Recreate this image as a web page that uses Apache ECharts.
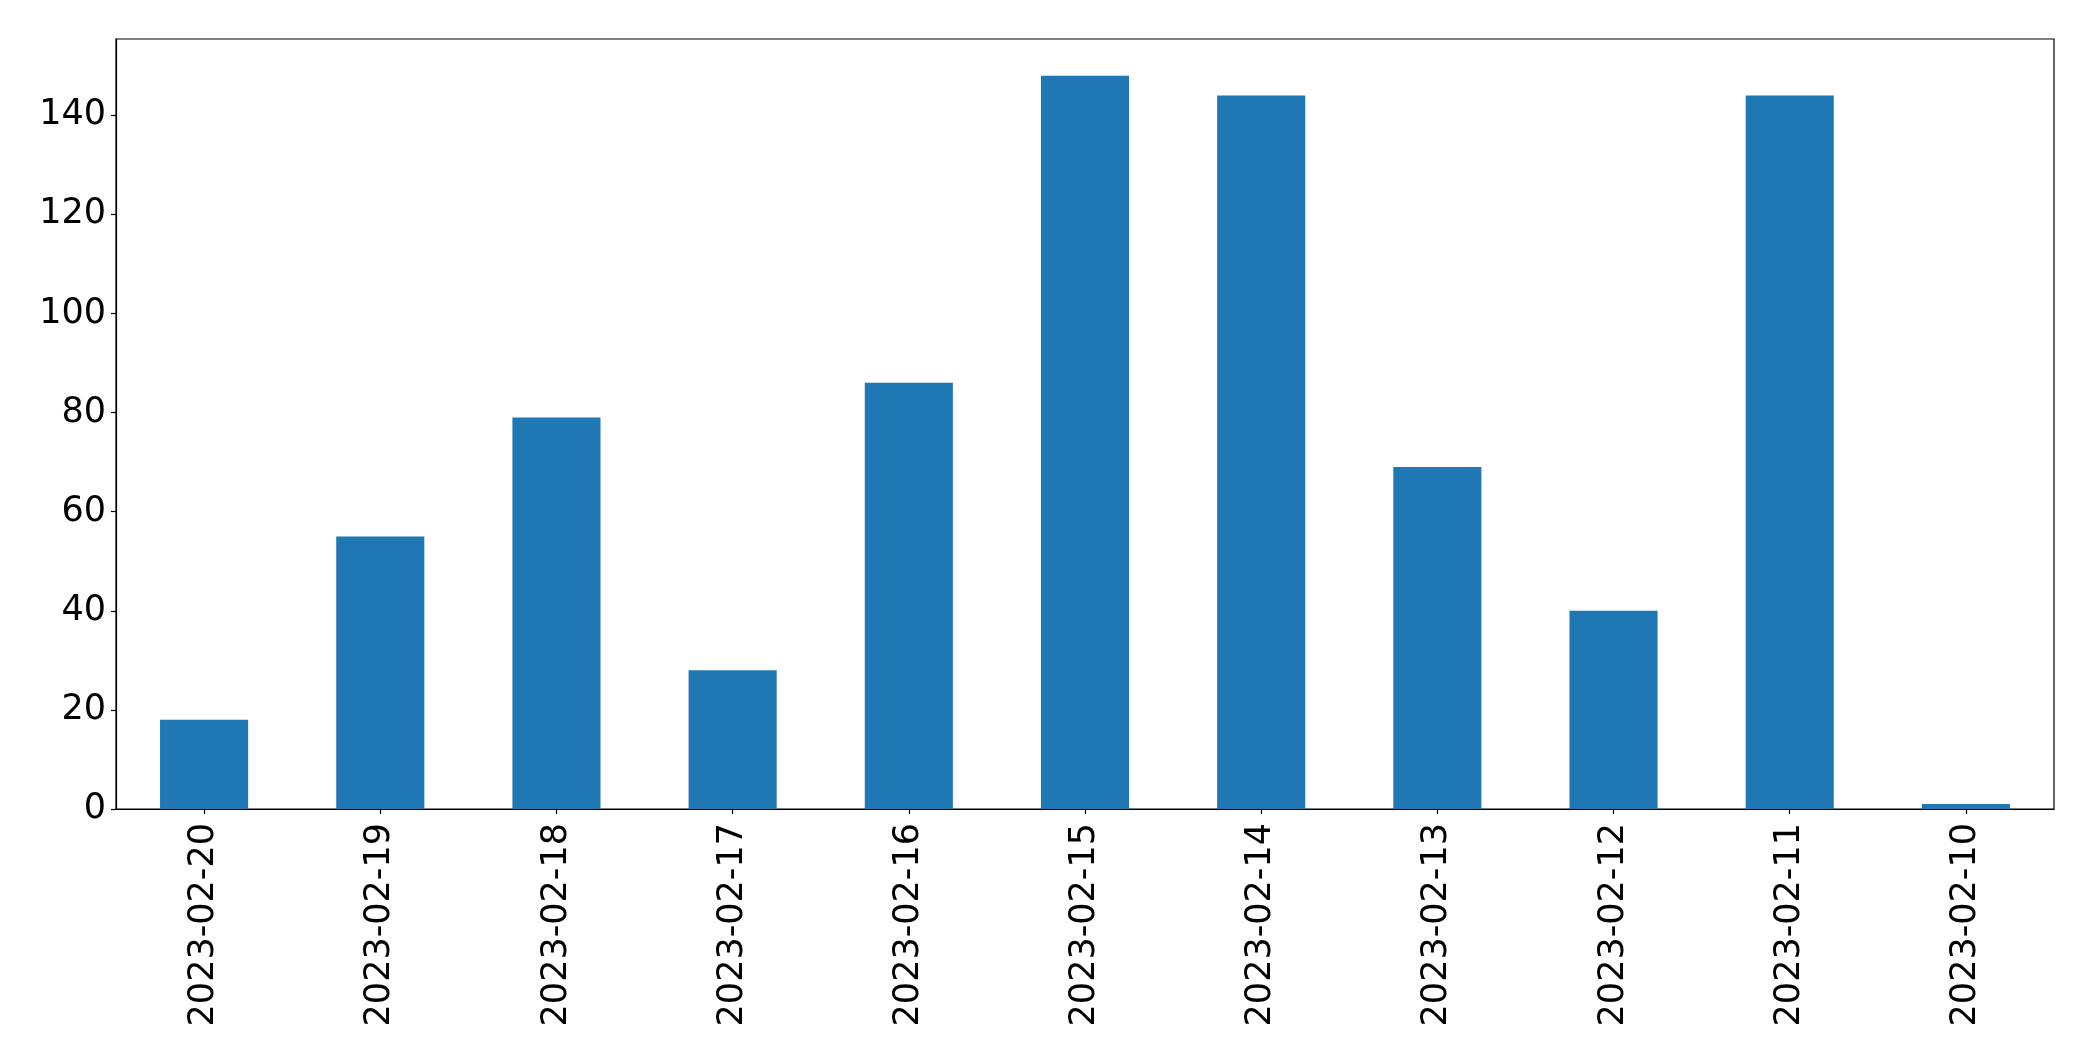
<!DOCTYPE html>
<html>
<head>
<meta charset="utf-8">
<script src="https://cdn.jsdelivr.net/npm/echarts@6/dist/echarts.min.js"></script>
<style>
html,body{margin:0;padding:0;background:#fff;}
#chart{width:2093px;height:1061px;}
</style>
</head>
<body>
<div id="chart"></div>
<script>
const categories = ['2023-02-20','2023-02-19','2023-02-18','2023-02-17','2023-02-16','2023-02-15','2023-02-14','2023-02-13','2023-02-12','2023-02-11','2023-02-10'];
const counts = [18, 55, 79, 28, 86, 148, 144, 69, 40, 144, 1];
const yTicks = [0, 20, 40, 60, 80, 100, 120, 140];

const chart = echarts.init(document.getElementById('chart'), null, {renderer: 'canvas'});
const font = 'DejaVu Sans';
chart.setOption({
  animation: false,
  backgroundColor: '#ffffff',
  grid: {
    left: 116, right: 39, top: 39, bottom: 252,
    containLabel: false,
    outerBoundsMode: 'none',
    show: true, borderColor: '#000', borderWidth: 1.2, backgroundColor: 'transparent'
  },
  xAxis: {
    type: 'category',
    data: categories,
    boundaryGap: true,
    axisLine: {show: true, lineStyle: {color: '#000', width: 1.2}},
    axisTick: {show: true, alignWithLabel: true, length: 5, lineStyle: {color: '#000', width: 1.2}},
    axisLabel: {rotate: 90, fontSize: 35, color: '#000', fontFamily: font, margin: 14, interval: 0},
    splitLine: {show: false}
  },
  yAxis: {
    type: 'value',
    min: 0, max: 155.4,
    axisLine: {show: true, lineStyle: {color: '#000', width: 1.2}},
    axisTick: {show: true, length: 5, lineStyle: {color: '#000', width: 1.2}, customValues: yTicks},
    axisLabel: {fontSize: 35, color: '#000', fontFamily: font, margin: 10, padding: [8, 0, 0, 0], customValues: yTicks},
    splitLine: {show: false}
  },
  series: [{
    type: 'bar',
    data: counts,
    barWidth: '50%',
    itemStyle: {color: '#1f77b4'}
  }]
});
</script>
</body>
</html>
